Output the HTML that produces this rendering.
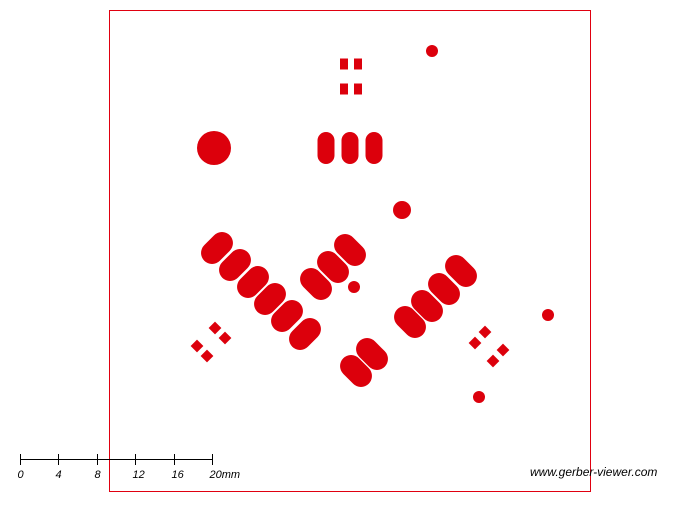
<!DOCTYPE html>
<html><head><meta charset="utf-8"><style>
html,body{margin:0;padding:0;background:#fff;}
svg text{font-family:"Liberation Sans",sans-serif;font-style:italic;font-size:11px;fill:#000;}
</style></head><body>
<svg width="700" height="500" viewBox="0 0 700 500" xmlns="http://www.w3.org/2000/svg">
<rect x="109.5" y="10.5" width="481" height="481" fill="none" stroke="#e00010" stroke-width="1"/>
<g fill="#dc000c" id="pads"></g>
<g stroke="#000" stroke-width="1">
<line x1="20" y1="459.5" x2="212" y2="459.5"/>
</g>
<g id="ticks"></g>
<text x="530" y="476" style="font-size:12px">www.gerber-viewer.com</text>
</svg>
<script>
const ovalsNeg=[[217,248],[235,265],[253,282],[270,299],[287,316],[305,334]];
const ovalsPos=[[316,284],[333,267],[350,250],[356,371],[372,354],[410,322],[427,306],[444,289],[461,271]];
const ovalsV=[[326,148],[350,148],[374,148]];
const circles=[[214,148,17],[402,210,9],[432,51,6],[548,315,6],[479,397,6],[354,287,6]];
const rects=[[344,64],[358,64],[344,89],[358,89]];
const diamonds=[[215,328],[225,338],[197,346],[207,356],[485,332],[503,350],[475,343],[493,361]];
const tickLabels=["0","4","8","12","16","20mm"];
const NS="http://www.w3.org/2000/svg";
const g=document.getElementById('pads');
function mk(t,a){const e=document.createElementNS(NS,t);for(const k in a)e.setAttribute(k,a[k]);return e;}
function oval(c,ang,w,h){const e=mk('rect',{x:c[0]-w/2,y:c[1]-h/2,width:w,height:h,rx:Math.min(w,h)/2,transform:`rotate(${ang} ${c[0]} ${c[1]})`});


g.appendChild(e);}
ovalsNeg.forEach(c=>oval(c,-45,36,22));
ovalsPos.forEach(c=>oval(c,45,36,22));
ovalsV.forEach(c=>oval(c,0,17,32));
circles.forEach(c=>{const e=mk('circle',{cx:c[0],cy:c[1],r:c[2]});


g.appendChild(e);});
rects.forEach(c=>{const e=mk('rect',{x:c[0]-4,y:c[1]-5.5,width:8,height:11});


g.appendChild(e);});
diamonds.forEach(c=>{const e=mk('rect',{x:c[0]-4.5,y:c[1]-4.5,width:9,height:9,transform:`rotate(45 ${c[0]} ${c[1]})`});


g.appendChild(e);});
const tg=document.getElementById('ticks');
tickLabels.forEach((l,i)=>{const x=Math.round(20+i*38.4)+0.5;
const ln=mk('line',{x1:x,y1:454,x2:x,y2:465,stroke:'#000'});


tg.appendChild(ln);
const t=mk('text',{x:x-3,y:478});t.textContent=l;


tg.appendChild(t);});
</script>
</body></html>
